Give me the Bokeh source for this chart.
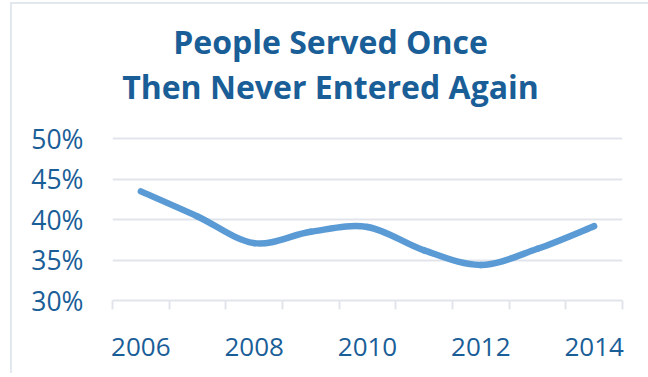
from bokeh.plotting import figure
from bokeh.models import Range1d, FixedTicker, PrintfTickFormatter, Label
from bokeh.embed import file_html
from bokeh.resources import INLINE

# Data
years = ["2006", "2007", "2008", "2009", "2010", "2011", "2012", "2013", "2014"]
served_once_pct = [43.5, 40.4, 37.1, 38.5, 39.1, 36.2, 34.4, 36.4, 39.2]
y_ticks = [30, 35, 40, 45, 50]
title_lines = ["People Served Once", "Then Never Entered Again"]

TEXT = "#1a5e98"
GRID = "#e1e5eb"
LINE = "#5b9bd5"
FONT = "Open Sans"

n = len(years)
xs = [i + 0.5 for i in range(n)]

# The plotting frame extends above the 50% line so the two-line title can sit inside it
p = figure(frame_width=510, frame_height=292, output_backend="svg", toolbar_location=None,
           x_range=Range1d(0, n), y_range=Range1d(30, 66.12),
           min_border_left=100, min_border_right=27, min_border_top=4, min_border_bottom=73)
p.title = None
p.outline_line_color = None
p.background_fill_color = "white"
p.border_fill_color = "white"

# Smoothed line (Bezier segments, Excel-style smoothing)
x0, y0, x1, y1, cx0, cy0, cx1, cy1 = [], [], [], [], [], [], [], []
for i in range(n - 1):
    pm = (xs[i - 1], served_once_pct[i - 1]) if i > 0 else (xs[i], served_once_pct[i])
    pa = (xs[i], served_once_pct[i])
    pb = (xs[i + 1], served_once_pct[i + 1])
    pp = (xs[i + 2], served_once_pct[i + 2]) if i + 2 < n else pb
    x0.append(pa[0]); y0.append(pa[1]); x1.append(pb[0]); y1.append(pb[1])
    cx0.append(pa[0] + (pb[0] - pm[0]) / 6); cy0.append(pa[1] + (pb[1] - pm[1]) / 6)
    cx1.append(pb[0] - (pp[0] - pa[0]) / 6); cy1.append(pb[1] - (pp[1] - pa[1]) / 6)
p.bezier(x0=x0, y0=y0, x1=x1, y1=y1, cx0=cx0, cy0=cy0, cx1=cx1, cy1=cy1,
         line_color=LINE, line_width=6.5, line_cap="round")

# X axis
xa = p.xaxis[0]
xa.ticker = FixedTicker(ticks=xs, minor_ticks=list(range(n + 1)))
xa.major_label_overrides = {x: (years[i] if i % 2 == 0 else "") for i, x in enumerate(xs)}
xa.major_tick_line_color = None
xa.major_tick_out = 0
xa.major_tick_in = 0
xa.minor_tick_line_color = GRID
xa.minor_tick_line_width = 2
xa.minor_tick_out = 9
xa.minor_tick_in = 0
xa.axis_line_color = GRID
xa.axis_line_width = 2
xa.major_label_text_font = FONT
xa.major_label_text_font_size = "26px"
xa.major_label_text_color = TEXT
xa.major_label_standoff = 28

# Y axis
ya = p.yaxis[0]
ya.ticker = FixedTicker(ticks=y_ticks)
ya.formatter = PrintfTickFormatter(format="%d%%")
ya.axis_line_color = None
ya.major_tick_line_color = None
ya.major_tick_out = 0
ya.minor_tick_line_color = None
ya.major_label_text_font = FONT
ya.major_label_text_font_size = "26.5px"
ya.major_label_text_color = TEXT
ya.major_label_standoff = 29

p.xgrid.grid_line_color = None
p.ygrid.grid_line_color = GRID
p.ygrid.grid_line_width = 2
p.ygrid.ticker = FixedTicker(ticks=y_ticks)

# Two-line title, centred on the card
title_x = 3.847
for txt, ty in zip(title_lines, [62.0, 56.45]):
    p.add_layout(Label(x=title_x, y=ty, text=txt, text_align="center", text_baseline="alphabetic",
                       text_font=FONT, text_font_style="bold", text_font_size="32px",
                       text_color=TEXT))

p.styles = {"border": "2px solid #e3e7ee", "border-bottom": "none",
            "margin-left": "10px", "margin-top": "2px"}

open("out.html", "w").write(file_html(p, INLINE))
